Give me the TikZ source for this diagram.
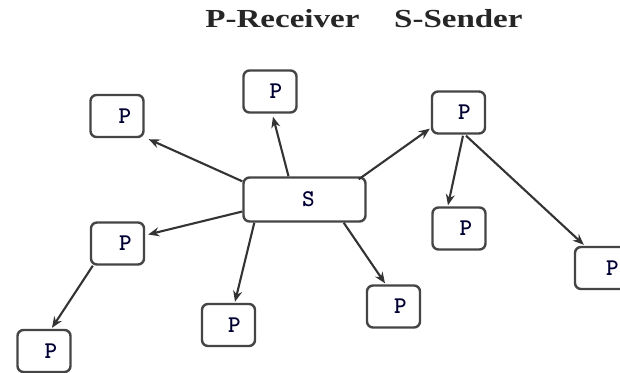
\documentclass[tikz,border=0pt]{standalone}
\usepackage{fontspec}
\setmainfont{Liberation Serif}
\usetikzlibrary{arrows.meta}
\definecolor{edge}{HTML}{333333}
\definecolor{frame}{HTML}{454545}
\tikzset{
  pbox/.style={draw=frame, line width=2.4pt, rounded corners=6pt, fill=white,
    minimum width=53pt, minimum height=42pt, inner sep=0pt,
    font=\ttfamily\bfseries\fontsize{24}{24}\selectfont, text=black!80!blue},
  sbox/.style={pbox, minimum width=122pt, minimum height=44pt},
  conn/.style={draw=edge, line width=2.1pt, -{Stealth[length=11pt,width=9pt]}},
  titletext/.style={font=\bfseries\fontsize{26}{28}\selectfont, text=black!85}
}
\begin{document}
\begin{tikzpicture}[x=1pt,y=-1pt]
\useasboundingbox[fill=white] (0,0) rectangle (620,372);
\node[titletext] (title) at (364,19) {\scalebox{1.27}[1]{P-Receiver\hspace{1.05em}S-Sender}};
\node[sbox] (S) at (304.5,199.5) {\hspace*{8pt}S};
\node[pbox] (P1) at (117,116) {\hspace*{16pt}P};
\node[pbox] (P2) at (270,91.5) {\hspace*{12pt}P};
\node[pbox] (P3) at (458.5,112.5) {\hspace*{12pt}P};
\node[pbox] (P4) at (117.5,243.5) {\hspace*{16pt}P};
\node[pbox] (P5) at (228.5,325) {\hspace*{12pt}P};
\node[pbox] (P6) at (393.5,306.5) {\hspace*{14pt}P};
\node[pbox] (P7) at (459,228.5) {\hspace*{14pt}P};
\node[pbox] (P8) at (601.5,268) {\hspace*{22pt}P};
\node[pbox] (P9) at (44,351) {\hspace*{14pt}P};
\draw[conn] ([yshift=-5pt]S.north west) -- ([xshift=4pt,yshift=-1pt]P1.south east);
\draw[conn] ([xshift=-16pt]S.north) -- ([xshift=3pt,yshift=-3pt]P2.south);
\draw[conn] ([xshift=-8pt,yshift=-3pt]S.north east) -- ([xshift=-1pt,yshift=6pt]P3.south west);
\draw[conn] ([yshift=-12pt]S.west) -- ([xshift=3pt,yshift=9pt]P4.east);
\draw[conn] ([xshift=12pt]S.south west) -- ([xshift=6.5pt,yshift=1pt]P5.north);
\draw[conn] ([xshift=-23pt]S.south east) -- ([xshift=-8.5pt,yshift=1pt]P6.north);
\draw[conn] ([xshift=4.5pt,yshift=-1pt]P3.south) -- ([xshift=-11pt,yshift=1pt]P7.north);
\draw[conn] ([xshift=7.5pt,yshift=-1pt]P3.south) -- ([xshift=10pt,yshift=1pt]P8.north west);
\draw[conn] ([xshift=3pt]P4.south west) -- ([xshift=8pt,yshift=1pt]P9.north);
\end{tikzpicture}
\end{document}
